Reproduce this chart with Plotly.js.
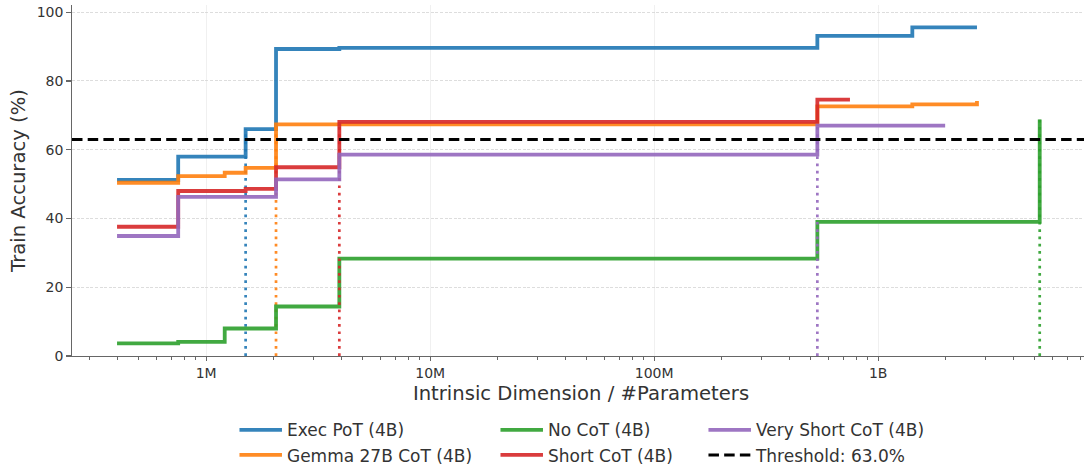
<!DOCTYPE html>
<html>
<head>
<meta charset="utf-8">
<script src="https://cdn.plot.ly/plotly-3.0.1.min.js"></script>
<style>html,body{margin:0;padding:0;background:#fff;overflow:hidden}</style>
</head>
<body>
<div id="chart" style="width:1090px;height:490px"></div>
<script>
// ---- data ----
const seriesNames = ["Exec PoT (4B)", "Gemma 27B CoT (4B)", "No CoT (4B)", "Short CoT (4B)", "Very Short CoT (4B)"];

const execX = [0.4e6, 0.75e6, 1.5e6, 2.05e6, 3.93e6, 535e6, 1.42e9, 2.76e9];
const execY = [51.2, 58.0, 66.0, 89.3, 89.6, 93.1, 95.6, 95.6];

const gemmaX = [0.4e6, 0.75e6, 1.21e6, 1.5e6, 2.05e6, 535e6, 1.42e9, 2.76e9];
const gemmaY = [50.4, 52.3, 53.3, 54.7, 67.4, 72.6, 73.2, 74.2];

const noCotX = [0.4e6, 0.75e6, 1.21e6, 2.05e6, 3.93e6, 535e6, 5.26e9];
const noCotY = [3.7, 4.1, 8.0, 14.4, 28.3, 39.0, 68.8];

const shortX = [0.4e6, 0.75e6, 1.5e6, 2.05e6, 3.93e6, 535e6, 748e6];
const shortY = [37.6, 48.0, 48.6, 54.9, 68.1, 74.6, 74.6];

const vshortX = [0.4e6, 0.75e6, 2.05e6, 3.93e6, 535e6, 1.99e9];
const vshortY = [34.9, 46.3, 51.4, 58.6, 67.0, 67.0];

const threshold = 63.0;

const xTickVals = [1e6, 1e7, 1e8, 1e9];
const xTickText = ["1M", "10M", "100M", "1B"];
const yTickVals = [0, 20, 40, 60, 80, 100];

// ---- styling ----
const colors = ["#1f77b4", "#ff7f0e", "#2ca02c", "#d62728", "#9467bd"];
const legendOf = ["legend", "legend", "legend2", "legend2", "legend3"];
const xLogRange = [5.401, 9.9455];
const FONT = "DejaVu Sans, sans-serif";
const TXT = "#333333";
const W = 1090;           // canvas slightly wider/taller than the window; the window crops it
const H = 490;
const PLOT_BOTTOM = 355.7; // pixel row of y = 0

const allX = [execX, gemmaX, noCotX, shortX, vshortX];
const allY = [execY, gemmaY, noCotY, shortY, vshortY];

const traces = [];
for (let i = 0; i < seriesNames.length; i++) {
  traces.push({
    type: "scatter", mode: "lines",
    x: allX[i], y: allY[i],
    name: seriesNames[i],
    line: {shape: "hv", color: colors[i], width: 3.8},
    opacity: 0.9,
    legend: legendOf[i],
    legendgroup: "g" + i,
    hoverinfo: "skip"
  });
  // first point reaching the threshold -> dotted marker line
  const k = allY[i].findIndex(v => v >= threshold);
  if (k >= 0) {
    traces.push({
      type: "scatter", mode: "lines",
      x: [allX[i][k], allX[i][k]], y: [0, allY[i][k]],
      line: {color: colors[i], width: 2.7, dash: "2.7px,4.6px"},
      opacity: 0.9,
      showlegend: false, hoverinfo: "skip"
    });
  }
}
traces.push({
  type: "scatter", mode: "lines",
  x: [Math.pow(10, xLogRange[0]), Math.pow(10, xLogRange[1])],
  y: [threshold, threshold],
  name: "Threshold: " + threshold.toFixed(1) + "%",
  line: {color: "#000000", width: 3, dash: "10.5px,5.2px"},
  legend: "legend3", legendgroup: "thr",
  hoverinfo: "skip"
});

const legendBase = {
  orientation: "v", xanchor: "left", yanchor: "top", y: -0.1603,
  font: {family: FONT, size: 17, color: TXT},
  bgcolor: "rgba(0,0,0,0)", borderwidth: 0,
  traceorder: "grouped", tracegroupgap: 0, itemwidth: 42.5
};

const layout = {
  width: W, height: H,
  margin: {l: 72, r: 0, t: 5, b: H - PLOT_BOTTOM, pad: 0},
  paper_bgcolor: "#ffffff", plot_bgcolor: "#ffffff",
  font: {family: FONT, color: TXT},
  showlegend: true,
  xaxis: {
    type: "log", range: xLogRange,
    tickmode: "array", tickvals: xTickVals, ticktext: xTickText,
    ticks: "outside", ticklen: 4, tickwidth: 1.2, tickcolor: "#666666",
    showline: true, linecolor: "#666666", linewidth: 1.3,
    showgrid: true, gridcolor: "#ececec", gridwidth: 0.8,
    zeroline: false,
    minor: {dtick: "D1", ticks: "outside", ticklen: 2.5, tickwidth: 1, tickcolor: "#666666", showgrid: false},
    tickfont: {family: FONT, size: 14, color: TXT},
    title: {text: "Intrinsic Dimension / #Parameters", font: {family: FONT, size: 19.6, color: TXT}, standoff: 6},
    automargin: false
  },
  yaxis: {
    range: [0, 102.1],
    tickmode: "array", tickvals: yTickVals,
    ticks: "outside", ticklen: 4.5, tickwidth: 1.2, tickcolor: "#666666",
    showline: true, linecolor: "#666666", linewidth: 1.3,
    showgrid: true, gridcolor: "#d4d4d4", gridwidth: 0.8, griddash: "3px,1.6px",
    zeroline: false,
    tickfont: {family: FONT, size: 14, color: TXT},
    title: {text: "Train Accuracy (%)", font: {family: FONT, size: 19.6, color: TXT}, standoff: 5},
    automargin: false
  },
  legend: Object.assign({}, legendBase, {x: 0.1596}),
  legend2: Object.assign({}, legendBase, {x: 0.416}),
  legend3: Object.assign({}, legendBase, {x: 0.6203})
};

Plotly.newPlot("chart", traces, layout, {displayModeBar: false, staticPlot: true});
</script>
</body>
</html>
